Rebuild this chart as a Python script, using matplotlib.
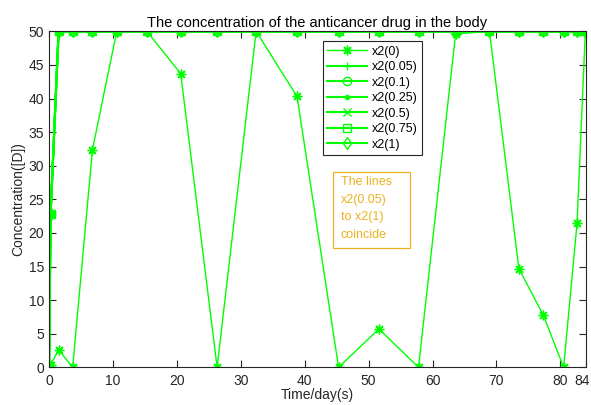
import matplotlib
matplotlib.use("Agg")
import matplotlib.pyplot as plt
import matplotlib.transforms as mtransforms
from matplotlib.patches import Rectangle

plt.rcParams['font.family'] = ['Liberation Sans', 'DejaVu Sans']

# time grid (days)
t = [0, 0.25, 1.5, 3.7, 6.8, 10.6, 15.3, 20.6, 26.3, 32.4, 38.8, 45.3,
     51.6, 57.8, 63.6, 68.9, 73.5, 77.3, 80.5, 82.6, 83.9]
x2_0 = [0, 0.3, 2.6, 0, 32.4, 50, 50, 43.7, 0, 50, 40.3, 0,
        5.7, 0, 49.6, 50, 14.7, 7.8, 0, 21.4, 50]
x2_other = [0, 22.8, 50, 50, 50, 50, 50, 50, 50, 50, 50, 50,
            50, 50, 50, 50, 50, 50, 50, 50, 50]
labels = ['x2(0)', 'x2(0.05)', 'x2(0.1)', 'x2(0.25)', 'x2(0.5)', 'x2(0.75)', 'x2(1)']
markers = [(8, 2, 0), '+', 'o', '.', 'x', 's', 'd']
xticks = [0, 10, 20, 30, 40, 50, 60, 70, 80, 84]
yticks = [0, 5, 10, 15, 20, 25, 30, 35, 40, 45, 50]

green = '#00ff00'
dark = '#262626'
orange = '#EDB120'

fig = plt.figure(figsize=(5.91, 4.05), dpi=100)
ax = fig.add_axes([49/591, 37.7/405, 537/591, 336/405])

series = [x2_0] + [x2_other] * 6
for i, (ys, lab, mk) in enumerate(zip(series, labels, markers)):
    ax.plot(t, ys, color=green, marker=mk, markersize=6 if i else 7,
            markerfacecolor='none' if mk in ('o', 's', 'd') else green,
            markeredgecolor=green, markeredgewidth=1.0,
            linewidth=1.0 if i == 0 else 1.5, label=lab)

ax.set_xlim(0, 84)
ax.set_ylim(0, 50)
ax.set_xticks(xticks)
ax.set_yticks(yticks)
ax.tick_params(direction='in', top=True, right=True, length=5, width=0.8,
               colors=dark, labelsize=10, labelcolor=dark)
ax.tick_params(axis='x', pad=5)
for s in ax.spines.values():
    s.set_color(dark)
    s.set_linewidth(0.8)

# nudge the last x tick label so it stays inside the figure
lbl = ax.get_xticklabels()[-1]
lbl.set_transform(lbl.get_transform() + mtransforms.ScaledTranslation(-4/100, 0, fig.dpi_scale_trans))

ax.set_title('The concentration of the anticancer drug in the body',
             fontsize=10.5, color='black', pad=3)
ax.set_xlabel('Time/day(s)', fontsize=10, color=dark, labelpad=0)
ax.set_ylabel('Concentration([D])', fontsize=10, color=dark, labelpad=2)

leg = ax.legend(loc='upper left', bbox_to_anchor=(0.510, 0.970),
                borderaxespad=0, fontsize=9, handlelength=3.2,
                labelspacing=0.28, fancybox=False, framealpha=1,
                edgecolor=dark, borderpad=0.35, handletextpad=0.35)
leg.get_frame().set_linewidth(0.8)

ax.add_patch(Rectangle((0.528, 0.354), 0.145, 0.226, transform=ax.transAxes,
                       facecolor='white', edgecolor=orange, linewidth=0.9,
                       zorder=5))
ax.text(0.543, 0.568, 'The lines\nx2(0.05)\nto x2(1)\ncoincide',
        transform=ax.transAxes, fontsize=9, color=orange,
        va='top', ha='left', linespacing=1.6, zorder=6)

fig.savefig('out.png', dpi=100)
